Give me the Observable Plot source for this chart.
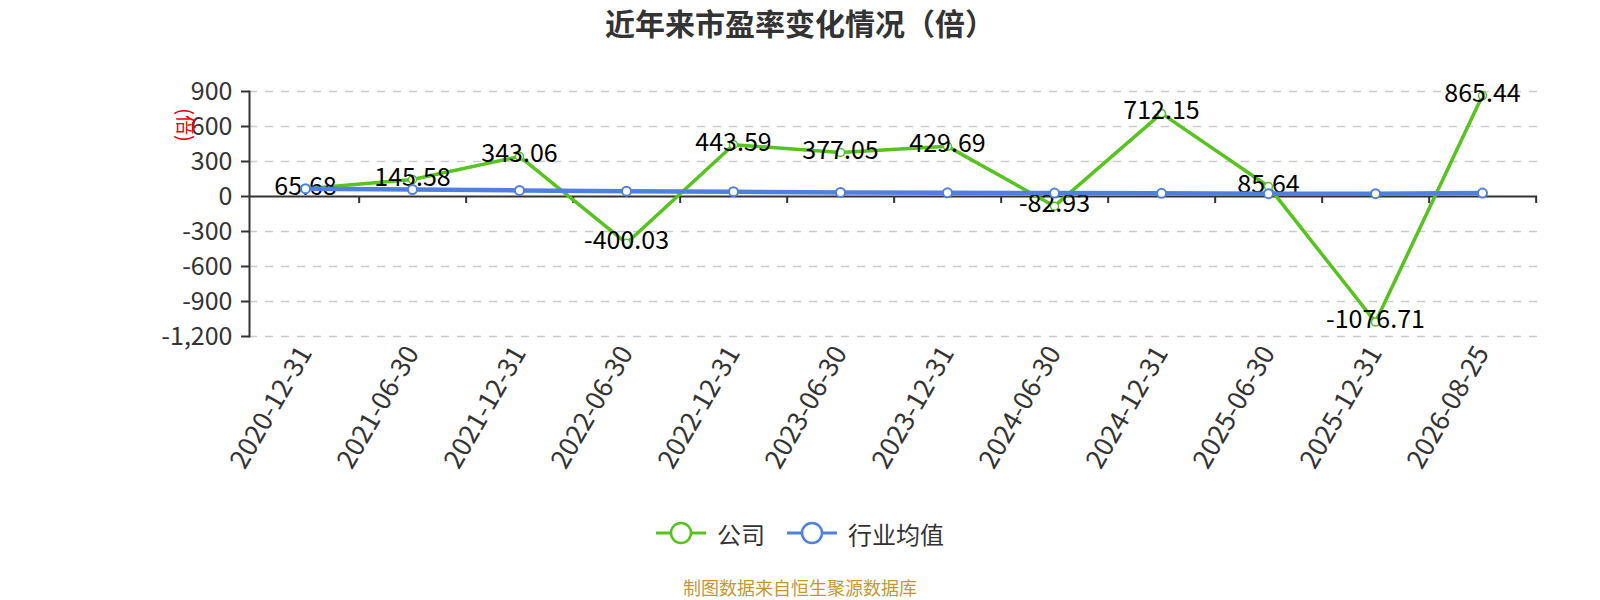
<!DOCTYPE html>
<html>
<head>
<meta charset="utf-8">
<script src="https://cdn.jsdelivr.net/npm/d3@7"></script>
<script src="https://cdn.jsdelivr.net/npm/@observablehq/plot@0.6"></script>
<style>
  body { margin: 0; background: #fff; font-family: "Noto Sans CJK SC", "Noto Sans", sans-serif; }
  #wrap { width: 1600px; height: 600px; position: relative; overflow: hidden; background: #fff; }
  #title { height: 45px; line-height: 44px; font-size: 30px; font-weight: bold; color: #333; text-align: center; width: 1600px; }
  #chart { height: 455px; position: relative; }
  #ylabel { position: absolute; left: 186px; top: 125px; transform: translate(-50%, -50%) rotate(90deg); color: #e00; font-size: 20px; white-space: nowrap; }
  #legend { height: 66px; display: flex; justify-content: center; align-items: center; font-size: 24px; color: #333; }
  .item { display: flex; align-items: center; margin: 0 11px; }
  .item svg { margin-right: 11px; }
  #footer { position: absolute; top: 577px; left: 0; width: 1600px; text-align: center; font-size: 18px; color: #c8962e; line-height: 20px; }
</style>
</head>
<body>
<div id="wrap">
  <div id="title">近年来市盈率变化情况（倍）</div>
  <div id="chart"></div>
  <div id="ylabel">(倍)</div>
  <div id="legend"></div>
  <div id="footer">制图数据来自恒生聚源数据库</div>
</div>
<script>
const dates = ["2020-12-31","2021-06-30","2021-12-31","2022-06-30","2022-12-31","2023-06-30","2023-12-31","2024-06-30","2024-12-31","2025-06-30","2025-12-31","2026-08-25"];
const companyPE = [65.68, 145.58, 343.06, -400.03, 443.59, 377.05, 429.69, -82.93, 712.15, 85.64, -1076.71, 865.44];
const industryPE = [67, 60, 52, 46, 41, 35, 32, 29, 27, 24, 24, 29];
const yTicks = [-1200, -900, -600, -300, 0, 300, 600, 900];
const seriesNames = ["公司", "行业均值"];
const colors = ["#56c31f", "#4f80e1"];

const company = dates.map((d, i) => ({date: d, v: companyPE[i]}));
const industry = dates.map((d, i) => ({date: d, v: industryPE[i]}));

const W = 1600, mL = 249, mR = 63;
const halfStep = (W - mL - mR) / dates.length / 2;
const fmt = v => v.toLocaleString("en-US");

const plot = Plot.plot({
  width: W,
  height: 455,
  marginLeft: mL,
  marginRight: mR,
  marginTop: 46,
  marginBottom: 164,
  style: {fontFamily: "'Noto Sans CJK SC', 'Noto Sans', sans-serif", background: "transparent", overflow: "visible"},
  x: {type: "point", domain: dates, padding: 0.5, label: null},
  y: {domain: [-1200, 900], label: null},
  marks: [
    Plot.ruleY(yTicks.filter(t => t !== 0), {stroke: "#ccc", strokeWidth: 1.5, strokeDasharray: "8,8"}),
    Plot.ruleY([0], {stroke: "#333", strokeWidth: 2}),
    Plot.ruleX(dates, {x: d => d, y1: 0, y2: -60, dx: halfStep, stroke: "#333", strokeWidth: 2}),
    Plot.frame({anchor: "left", stroke: "#333", strokeWidth: 2}),
    Plot.axisY({ticks: yTicks, tickSize: 8, tickPadding: 9, tickFormat: fmt, fontSize: 25, fill: "#333", stroke: "#333", strokeWidth: 2, label: null}),
    Plot.axisX({tickSize: 0, tickPadding: 12, tickRotate: -60, fontSize: 26.5, fill: "#333", label: null}),
    Plot.line(company, {x: "date", y: "v", stroke: colors[0], strokeWidth: 3.5}),
    Plot.dot(company, {x: "date", y: "v", r: 4, fill: "white", stroke: colors[0], strokeWidth: 1.5}),
    Plot.text(company, {x: "date", y: "v", text: d => d.v.toFixed(2), dy: -2, fontSize: 25, fill: "#000"}),
    Plot.line(industry, {x: "date", y: "v", stroke: colors[1], strokeWidth: 4.5}),
    Plot.dot(industry, {x: "date", y: "v", r: 4.5, fill: "white", stroke: colors[1], strokeWidth: 2})
  ]
});
document.getElementById("chart").appendChild(plot);

const legend = document.getElementById("legend");
seriesNames.forEach((name, i) => {
  const item = document.createElement("div");
  item.className = "item";
  item.innerHTML = `<svg width="50" height="26"><line x1="0" y1="13" x2="50" y2="13" stroke="${colors[i]}" stroke-width="3"/><circle cx="25" cy="13" r="10" fill="#fff" stroke="${colors[i]}" stroke-width="2.5"/></svg><span>${name}</span>`;
  legend.appendChild(item);
});
</script>
</body>
</html>
